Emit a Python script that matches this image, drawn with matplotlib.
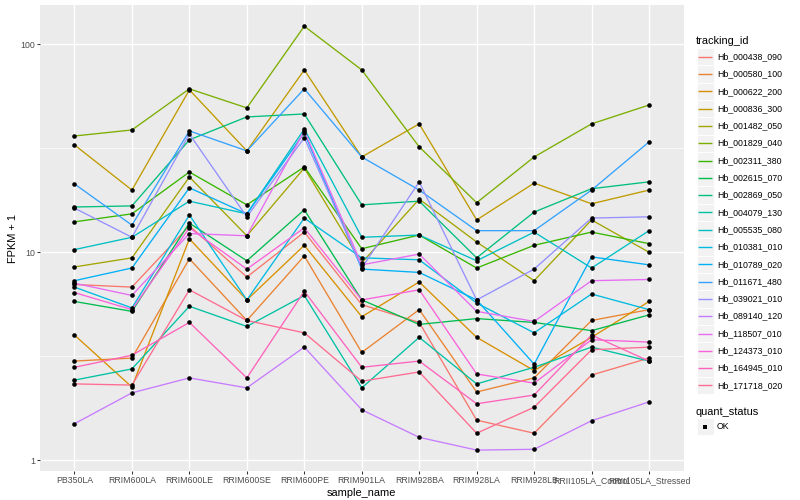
import numpy as np
import matplotlib
matplotlib.use("Agg")
import matplotlib.pyplot as plt
from matplotlib.patches import Rectangle

# ---------------------------------------------------------------------------
# data (FPKM + 1)
# ---------------------------------------------------------------------------
samples = ["PB350LA", "RRIM600LA", "RRIM600LE", "RRIM600SE", "RRIM600PE",
           "RRIM901LA", "RRIM928BA", "RRIM928LA", "RRIM928LB",
           "RRII105LA_Control", "RRII105LA_Stressed"]

tracking_ids = ["Hb_000438_090", "Hb_000580_100", "Hb_000622_200", "Hb_000836_300",
                "Hb_001482_050", "Hb_001829_040", "Hb_002311_380", "Hb_002615_070",
                "Hb_002869_050", "Hb_004079_130", "Hb_005535_080", "Hb_010381_010",
                "Hb_010789_020", "Hb_011671_480", "Hb_039021_010", "Hb_089140_120",
                "Hb_118507_010", "Hb_124373_010", "Hb_164945_010", "Hb_171718_020"]

hb_000438_090 = [7.0, 6.8, 13.4, 7.6, 12.5, 5.6, 4.6, 1.56, 1.35, 2.57, 3.1]
hb_000580_100 = [3.0, 3.1, 9.3, 4.7, 9.6, 3.3, 5.3, 2.13, 2.49, 4.7, 5.3]
hb_000622_200 = [4.0, 2.25, 11.6, 5.9, 10.8, 4.9, 7.2, 3.9, 2.7, 3.9, 5.8]
hb_000836_300 = [32.8, 19.9, 60.3, 30.7, 75.2, 28.7, 41.4, 14.3, 21.5, 17.1, 19.9]
hb_001482_050 = [8.5, 9.4, 23.0, 12.0, 25.4, 8.9, 18.0, 11.2, 7.3, 14.3, 10.0]
hb_001829_040 = [36.2, 38.7, 61.0, 49.4, 122.0, 75.2, 32.1, 17.3, 28.7, 41.4, 51.0]
hb_002311_380 = [14.0, 15.3, 24.3, 16.9, 25.7, 10.4, 12.1, 8.4, 10.8, 12.5, 11.0]
hb_002615_070 = [5.8, 5.2, 13.8, 9.1, 16.0, 5.9, 4.5, 4.8, 4.6, 4.2, 5.0]
hb_002869_050 = [16.5, 16.7, 34.7, 44.7, 46.2, 16.9, 17.6, 9.4, 15.6, 20.2, 21.8]
hb_004079_130 = [2.43, 2.75, 5.5, 4.4, 6.2, 2.23, 3.9, 2.33, 2.8, 3.5, 3.0]
hb_005535_080 = [10.3, 11.8, 17.6, 15.3, 39.1, 11.8, 12.1, 9.1, 12.5, 8.4, 12.7]
hb_010381_010 = [6.8, 5.4, 15.1, 5.9, 14.6, 9.4, 9.2, 5.7, 4.1, 6.3, 5.3]
hb_010789_020 = [7.3, 8.4, 20.4, 15.3, 37.5, 8.3, 8.0, 5.9, 2.9, 9.5, 8.7]
hb_011671_480 = [21.3, 13.5, 38.3, 30.7, 61.0, 28.7, 19.9, 12.7, 12.7, 19.9, 33.9]
hb_039021_010 = [16.3, 11.8, 37.0, 14.8, 35.5, 8.4, 21.8, 5.9, 8.3, 14.6, 14.8]
hb_089140_120 = [1.5, 2.11, 2.49, 2.23, 3.5, 1.75, 1.29, 1.12, 1.13, 1.55, 1.91]
hb_118507_010 = [7.1, 6.2, 12.3, 12.0, 38.3, 8.7, 9.8, 5.2, 4.65, 7.3, 7.4]
hb_124373_010 = [6.4, 5.3, 13.1, 8.3, 13.1, 5.9, 6.6, 2.6, 2.35, 3.8, 3.7]
hb_164945_010 = [2.8, 3.2, 4.6, 2.49, 6.5, 2.8, 3.0, 1.87, 2.06, 4.0, 3.0]
hb_171718_020 = [2.33, 2.3, 6.6, 4.7, 4.1, 2.4, 2.66, 1.35, 1.8, 3.4, 3.5]

series = [hb_000438_090, hb_000580_100, hb_000622_200, hb_000836_300,
          hb_001482_050, hb_001829_040, hb_002311_380, hb_002615_070,
          hb_002869_050, hb_004079_130, hb_005535_080, hb_010381_010,
          hb_010789_020, hb_011671_480, hb_039021_010, hb_089140_120,
          hb_118507_010, hb_124373_010, hb_164945_010, hb_171718_020]

# ggplot2 hue palette, 20 levels
colors = ["#F8766D", "#EA8331", "#D89000", "#C09B00", "#A3A500", "#7CAE00",
          "#39B600", "#00BB4E", "#00BF7D", "#00C1A3", "#00BFC4", "#00BAE0",
          "#00B0F6", "#35A2FF", "#9590FF", "#C77CFF", "#E76BF3", "#FA62DB",
          "#FF62BC", "#FF6C91"]

status_levels = ["OK"]

# ---------------------------------------------------------------------------
# style
# ---------------------------------------------------------------------------
plt.rcParams["font.family"] = ["Liberation Sans", "DejaVu Sans"]
PX = 0.72            # 1 px (at 72 dpi ggplot) in points at dpi 100
W, H = 800, 500

fig = plt.figure(figsize=(W / 100, H / 100), dpi=100)
fig.patch.set_facecolor("white")

# panel in pixel coordinates
x0, x1, y0, y1 = 40.0, 683.5, 5.0, 471.3
ax = fig.add_axes([x0 / W, 1 - y1 / H, (x1 - x0) / W, (y1 - y0) / H])
ax.set_facecolor("#EBEBEB")
for s in ax.spines.values():
    s.set_visible(False)

xs = np.arange(len(samples))
for vals, col in zip(series, colors):
    ax.plot(xs, vals, color=col, lw=0.95, zorder=3, solid_capstyle="butt")
for vals in series:
    ax.plot(xs, vals, ls="none", marker="o", ms=3.3, mfc="black", mec="black",
            mew=0, zorder=4)

ax.set_yscale("log")
allv = np.concatenate([np.asarray(v, float) for v in series])
lo, hi = np.log10(allv.min()), np.log10(allv.max())
pad = 0.05 * (hi - lo)
ax.set_ylim(10 ** (lo - pad), 10 ** (hi + pad))
ax.set_xlim(-0.6, len(samples) - 1 + 0.6)

ax.set_yticks([1, 10, 100])
ax.set_yticklabels(["1", "10", "100"])
ax.set_yticks([10 ** 0.5, 10 ** 1.5], minor=True)
ax.yaxis.set_minor_formatter(plt.NullFormatter())
ax.set_xticks(xs)
ax.set_xticklabels(samples)

ax.grid(True, which="major", color="white", lw=1.0, zorder=1)
ax.grid(True, which="minor", axis="y", color="white", lw=0.5, zorder=1)
ax.set_axisbelow(True)
ax.tick_params(axis="both", which="major", length=2.75 * PX, width=0.75,
               color="#333333", labelcolor="#4D4D4D", labelsize=8.8 * PX,
               pad=2.2 * PX)
ax.tick_params(axis="both", which="minor", length=0)

ax.set_xlabel("sample_name", fontsize=11 * PX, labelpad=2.75 * PX)
ax.set_ylabel("FPKM + 1", fontsize=11 * PX, labelpad=2.75 * PX)

# ---------------------------------------------------------------------------
# legends (drawn in pixel coordinates on an overlay axes)
# ---------------------------------------------------------------------------
lg = fig.add_axes([0, 0, 1, 1])
lg.set_xlim(0, W)
lg.set_ylim(H, 0)
lg.axis("off")

lx, key_w, key_h = 696.5, 17.3, 17.3
lg.text(lx - 0.5, 40.7, "tracking_id", fontsize=11 * PX, va="center", ha="left")
top = 56.7 - key_h / 2
for i, (name, col) in enumerate(zip(tracking_ids, colors)):
    ky = top + i * key_h
    lg.add_patch(Rectangle((lx, ky), key_w, key_h, facecolor="#F2F2F2",
                           edgecolor="white", lw=0.7))
    lg.plot([lx + 1.7, lx + key_w - 1.7], [ky + key_h / 2] * 2, color=col,
            lw=1.0, solid_capstyle="butt")
    lg.text(lx + key_w + 3.3, ky + key_h / 2, name, fontsize=8.8 * PX,
            va="center", ha="left")

lg.text(lx - 0.5, 411.7, "quant_status", fontsize=11 * PX, va="center", ha="left")
for j, st in enumerate(status_levels):
    ky = 426.7 - key_h / 2 + j * key_h
    lg.add_patch(Rectangle((lx, ky), key_w, key_h, facecolor="#F2F2F2",
                           edgecolor="white", lw=0.7))
    lg.plot([lx + key_w / 2], [ky + key_h / 2], ls="none", marker="s",
            ms=2.8, mfc="black", mec="black", mew=0)
    lg.text(lx + key_w + 3.3, ky + key_h / 2, st, fontsize=8.8 * PX,
            va="center", ha="left")

fig.savefig("out.png", dpi=100)
